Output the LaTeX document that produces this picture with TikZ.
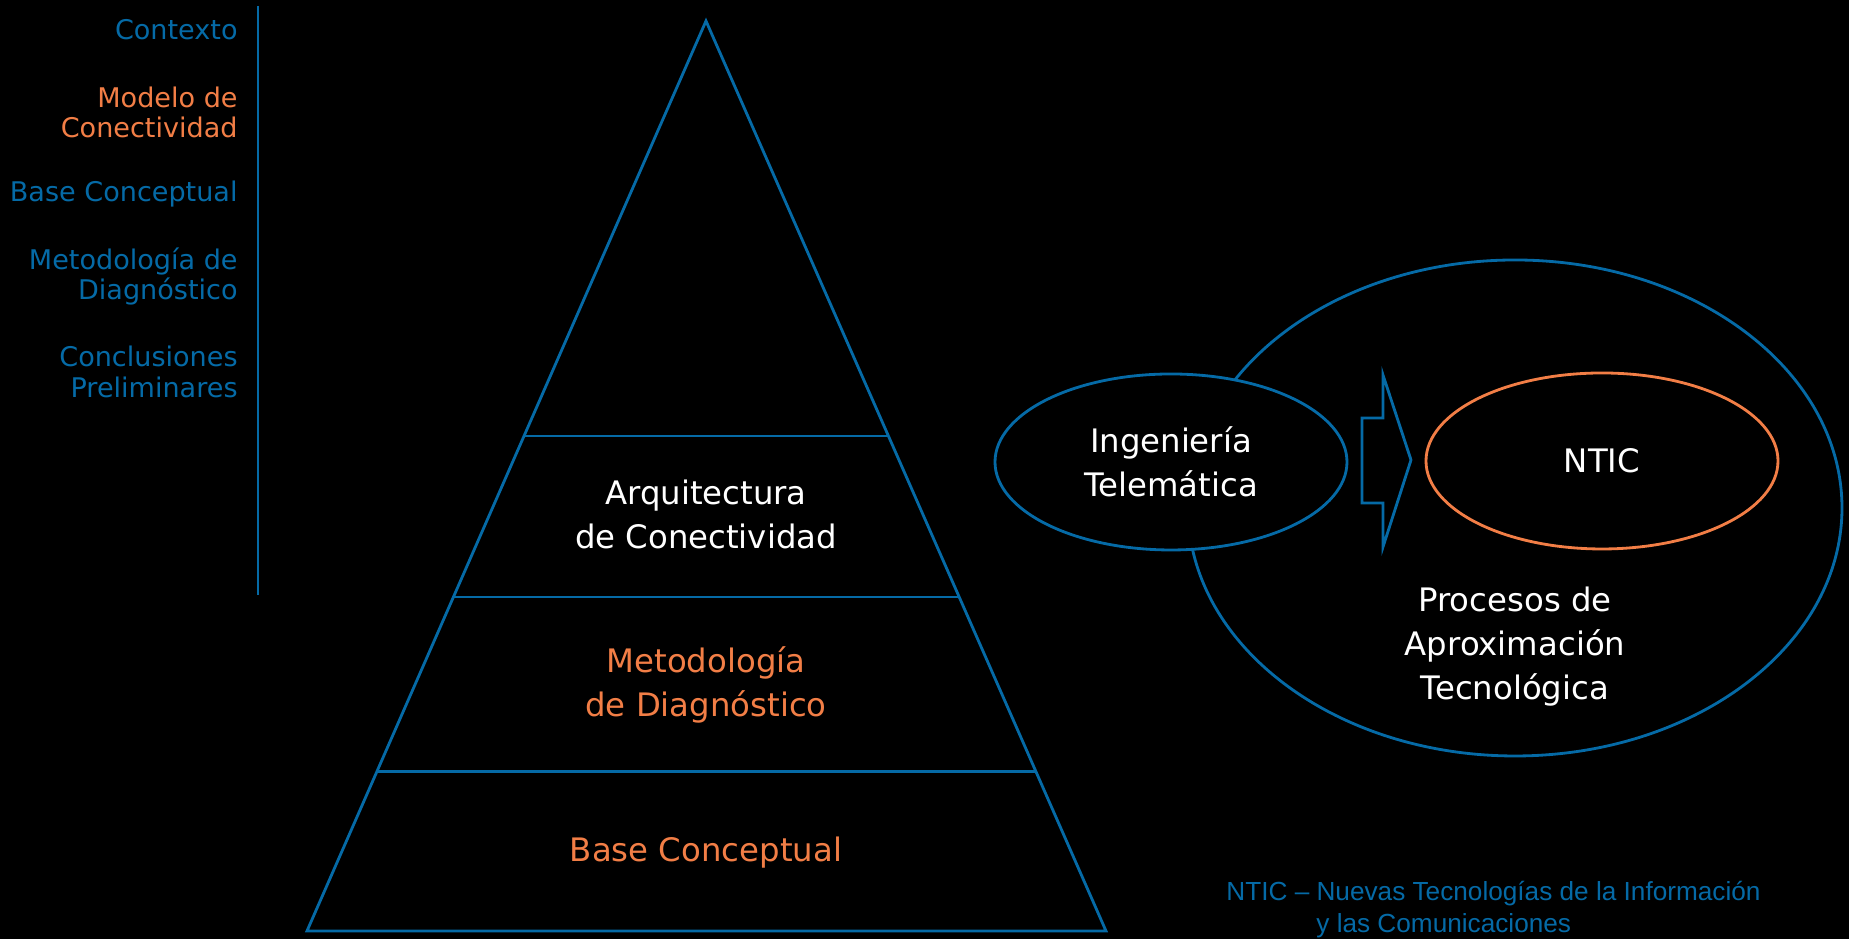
\documentclass[tikz,border=0pt]{standalone}
\usepackage{fontspec}
\setmainfont{DejaVu Sans}
\newfontfamily\notefont{Liberation Sans}
\usetikzlibrary{shapes.geometric, calc}
\definecolor{ntblue}{RGB}{5,106,166}
\definecolor{ntorange}{RGB}{242,126,70}

\begin{document}
\begin{tikzpicture}[line width=0.8pt,
    menu/.style={anchor=east, align=right, inner sep=0pt, font=\fontsize{7.7}{8.7}\selectfont},
    level/.style={align=center, inner sep=0pt, font=\fontsize{9.2}{12.5}\selectfont},
    oval/.style={ellipse, draw=ntblue, fill=black, text=white, align=center, minimum width=3.52cm, minimum height=1.76cm, inner sep=0pt, font=\fontsize{9.2}{12.5}\selectfont}]
    \fill[black] (0,0) rectangle (18.49,9.39);
    \useasboundingbox (0,0) rectangle (18.49,9.39);

    % side menu
    \draw[ntblue] (2.58,9.33)--(2.58,3.44);
    \node[menu, text=ntblue] (ctx) at (2.39,9.09) {Contexto};
    \node[menu, text=ntorange] (mod) at (2.39,8.265) {Modelo de\\Conectividad};
    \node[menu, text=ntblue] (base) at (2.39,7.45) {Base Conceptual};
    \node[menu, text=ntblue] (met) at (2.39,6.625) {Metodología de\\Diagnóstico};
    \node[menu, text=ntblue] (concl) at (2.39,5.67) {Conclusiones\\Preliminares};

    % pyramid
    \coordinate (apex) at (7.06,9.18);
    \coordinate (bl) at (3.07,0.08);
    \coordinate (br) at (11.06,0.08);
    \draw[ntblue] (apex)--(bl)--(br)--cycle;
    \foreach \t in {0.456,0.633,0.825} {
        \draw[ntblue] ($(apex)!\t!(bl)$)--($(apex)!\t!(br)$);
    }
    \node[level, text=white] (arq) at (7.06,4.25) {Arquitectura\\de Conectividad};
    \node[level, text=ntorange] (diag) at (7.06,2.54) {Metodología\\de Diagnóstico};
    \node[level, text=ntorange] (conc) at (7.06,0.86) {Base Conceptual};

    % processes
    \draw[ntblue] (15.15,4.31) ellipse (3.27 and 2.48);
    \node[oval] (ing) at (11.71,4.77) {Ingeniería\\Telemática};
    \node[oval, draw=ntorange] (ntic) at (16.02,4.78) {NTIC};
    \draw[ntblue] (13.62,5.21)--(13.83,5.21)--(13.83,5.64)--(14.11,4.79)--(13.83,3.92)--(13.83,4.36)--(13.62,4.36)--cycle;
    \node[level, text=white] (proc) at (15.15,2.92) {Procesos de\\Aproximación\\Tecnológica};

    \node[anchor=west, align=left, inner sep=0pt, text=ntblue, font=\notefont\fontsize{7.45}{9.1}\selectfont] (note) at (12.25,0.29) {NTIC – Nuevas Tecnologías de la Información\\\hspace*{9mm}y las Comunicaciones};
\end{tikzpicture}
\end{document}
